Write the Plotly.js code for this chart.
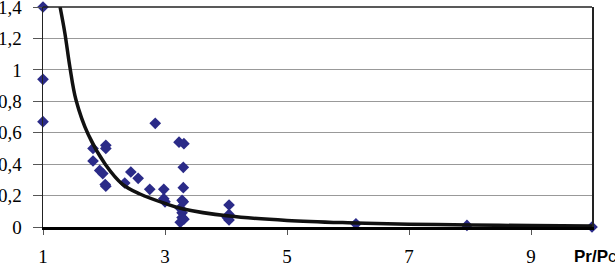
<!DOCTYPE html>
<html>
<head>
<meta charset="utf-8">
<script src="https://cdn.plot.ly/plotly-3.0.1.min.js"></script>
<style>html,body{margin:0;padding:0;background:#fff;}#chart{width:615px;height:265px;}</style>
</head>
<body>
<div id="chart"></div>
<script>
// Observed points (Pr/Pc, value)
const obsX = [1, 1, 1, 1.82, 1.82, 2.03, 2.03, 1.93, 1.98, 2.02, 2.03, 2.34, 2.44, 2.56, 2.75, 2.84,
  2.98, 2.98, 3.0, 3.23, 3.31, 3.3, 3.3, 3.28, 3.3, 3.25, 3.28, 3.28, 3.25, 3.31,
  4.05, 4.05, 4.02, 4.05, 6.13, 7.95, 10];
const obsY = [1.4, 0.94, 0.67, 0.50, 0.42, 0.52, 0.50, 0.36, 0.34, 0.27, 0.26, 0.28, 0.35, 0.31, 0.24, 0.66,
  0.24, 0.18, 0.16, 0.54, 0.53, 0.38, 0.25, 0.17, 0.16, 0.12, 0.09, 0.06, 0.03, 0.05,
  0.14, 0.08, 0.06, 0.045, 0.02, 0.01, 0];
// Fitted curve
const fitX = [1.28, 1.36, 1.44, 1.54, 1.74, 2.02, 2.31, 2.59, 3.0, 3.3, 4.05, 5, 6, 7, 8, 9, 10];
const fitY = [1.4, 1.23, 1.02, 0.81, 0.59, 0.40, 0.27, 0.21, 0.15, 0.115, 0.07, 0.042, 0.027, 0.018, 0.013, 0.009, 0.007];
const xTicks = [1, 3, 5, 7, 9];
const yTicks = [0, 0.2, 0.4, 0.6, 0.8, 1, 1.2, 1.4];

const traces = [
  {x: obsX, y: obsY, mode: 'markers', type: 'scatter', cliponaxis: false,
   marker: {symbol: 'diamond', size: 9, color: '#2b2b88'}},
  {x: fitX, y: fitY, mode: 'lines', type: 'scatter', cliponaxis: true,
   line: {color: '#111111', width: 3.5, shape: 'spline', smoothing: 1}}
];
const serif = 'Liberation Serif';
const layout = {
  width: 615, height: 265,
  margin: {l: 43, r: 23, t: 7, b: 38},
  paper_bgcolor: '#fff', plot_bgcolor: '#fff',
  showlegend: false,
  separators: ', ',
  font: {family: serif, size: 19, color: '#000'},
  xaxis: {range: [1, 10], tickvals: xTicks, ticktext: xTicks.map(String),
    tickfont: {family: serif, size: 19, color: '#000'},
    showgrid: false, zeroline: false, showline: true, linecolor: '#000', linewidth: 3,
    ticks: 'outside', ticklen: 5, tickcolor: '#555', tickwidth: 1, ticklabelstandoff: 5,
    ticklabeloverflow: 'allow'},
  yaxis: {range: [0, 1.4], tickvals: yTicks, ticktext: yTicks.map(v => String(v).replace('.', ',')),
    tickfont: {family: serif, size: 19, color: '#000'},
    showgrid: true, gridcolor: '#999', gridwidth: 1, zeroline: false,
    showline: true, linecolor: '#222', linewidth: 1.5, mirror: true,
    ticks: 'outside', ticklen: 9, tickcolor: '#555', tickwidth: 1, ticklabelstandoff: 7,
    ticklabeloverflow: 'allow'},
  shapes: [{type: 'line', xref: 'paper', yref: 'paper', x0: 0, x1: 1, y0: 1, y1: 1,
    line: {color: '#222', width: 1.5}}],
  annotations: [{xref: 'paper', yref: 'paper', x: 1.0055, y: -0.136, xanchor: 'center', yanchor: 'middle',
    text: '<b>Pr/P</b>c', showarrow: false,
    font: {family: 'Liberation Sans', size: 17, color: '#000'}}]
};
Plotly.newPlot('chart', traces, layout, {staticPlot: true, displayModeBar: false});
</script>
</body>
</html>
